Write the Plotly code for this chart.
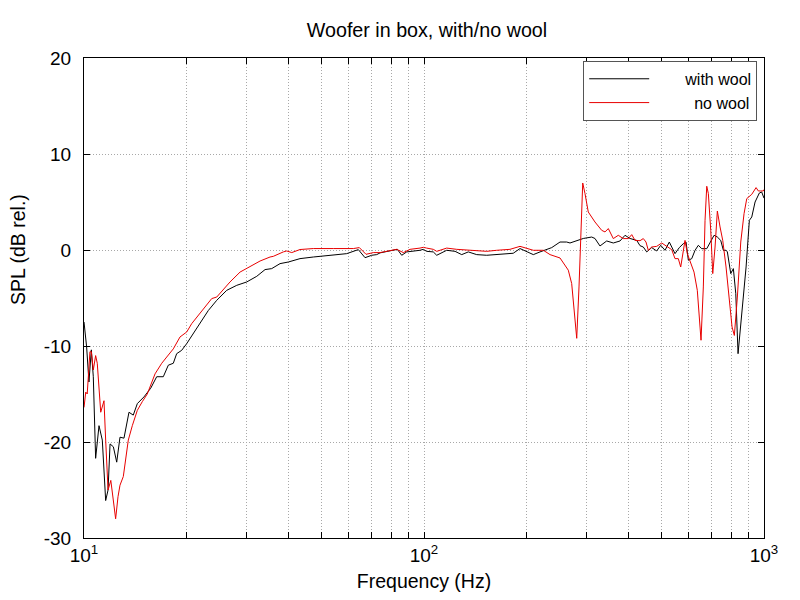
import plotly.graph_objects as go

# ---- data ----
freq_wool = [10.0, 10.18, 10.34, 10.51, 10.65, 10.82, 11.07, 11.32, 11.58, 11.77, 11.93, 12.2, 12.48,
             12.76, 13.11, 13.56, 13.96, 14.35, 15.01, 15.71, 16.36, 17.11, 17.7, 18.31, 18.73, 19.38,
             20.05, 20.97, 21.94, 23.21, 24.57, 26.29, 28.13, 30.1, 32.22, 34.08, 35.65, 37.72, 39.9,
             43.18, 47.26, 51.73, 54.1, 59.24, 64.1, 67.08, 70.19, 72.59, 74.25, 81.23, 83.47, 85.99,
             88.95, 97.32, 99.54, 101.8, 106.5, 109.0, 116.6, 123.4, 129.1, 135.0, 142.9, 152.9, 163.6,
             175.1, 183.0, 191.6, 200.5, 209.7, 219.4, 229.6, 237.5, 251.2, 262.8, 268.8, 281.3, 294.1,
             311.3, 318.3, 329.3, 344.6, 360.4, 377.1, 390.1, 403.6, 422.3, 431.8, 441.6, 451.9, 467.4,
             483.5, 496.8, 511.5, 526.6, 535.2, 547.3, 563.5, 579.0, 589.8, 599.1, 613.0, 626.9, 641.0,
             656.0, 678.6, 693.9, 713.0, 729.1, 746.0, 759.4, 773.3, 780.3, 798.4, 812.6, 826.0, 838.9,
             860.2, 885.7, 905.7, 920.5, 941.3, 969.1, 984.5, 995.3, 1000.0]
spl_wool = [-7.5, -10.1, -13.75, -10.4, -13.2, -21.7, -18.3, -19.8, -26.1, -25.0, -20.2, -20.5, -22.1,
            -19.5, -19.6, -16.9, -17.2, -16.0, -15.3, -14.4, -13.2, -13.2, -12.0, -11.8, -10.8, -10.45,
            -9.75, -8.7, -7.5, -6.3, -5.24, -4.2, -3.68, -3.33, -2.74, -2.04, -1.94, -1.42, -1.25,
            -0.9, -0.73, -0.6, -0.55, -0.38, 0.04, -0.8, -0.55, -0.48, -0.3, -0.03, 0.07, -0.55,
            -0.2, -0.03, 0.07, -0.14, -0.2, -0.55, -0.03, -0.14, -0.48, -0.2, -0.48, -0.55, -0.48,
            -0.41, -0.34, 0.15, -0.2, -0.48, -0.2, 0.07, 0.25, 0.83, 0.83, 0.73, 1.0, 1.2,
            1.35, 1.2, 0.42, 0.94, 0.73, 0.94, 1.53, 1.2, 1.0, 0.45, 0.31, -0.2, 0.25,
            -0.1, 0.49, -0.03, 0.83, 0.38, -0.38, 0.25, 0.66, 0.83, -1.07, -0.9, -0.03, 0.49,
            0.14, 0.14, 0.83, 1.53, 1.35, 1.0, -0.03, -0.03, -0.2, -2.46, -1.94, -4.54, -10.8,
            -6.98, -1.77, 3.09, 3.44, 5.0, 5.94, 6.04, 5.7, 5.4]

freq_nowool = [10.0, 10.12, 10.22, 10.41, 10.51, 10.65, 10.82, 10.94, 11.2, 11.32, 11.45, 11.58, 11.77,
               11.99, 12.2, 12.39, 12.59, 12.76, 13.05, 13.26, 13.5, 13.87, 14.35, 14.84, 15.35, 16.18,
               16.93, 17.51, 18.31, 19.16, 20.05, 20.74, 21.94, 23.75, 24.57, 26.88, 28.77, 30.78, 32.94,
               35.25, 36.04, 38.57, 39.47, 40.83, 43.18, 47.26, 51.73, 54.1, 61.97, 64.54, 67.53, 70.95,
               74.25, 83.13, 86.93, 90.96, 97.32, 99.54, 101.8, 106.5, 109.0, 116.6, 124.8, 136.6, 152.9,
               163.6, 179.0, 191.6, 200.5, 209.7, 224.4, 234.8, 251.2, 259.8, 265.7, 271.9, 276.2, 281.3,
               285.7, 289.0, 293.0, 297.5, 304.2, 318.3, 333.1, 340.7, 348.4, 360.4, 372.8, 385.6, 399.0,
               408.3, 417.5, 431.8, 441.6, 449.7, 456.8, 467.4, 483.5, 500.2, 517.4, 535.2, 547.3, 559.7,
               568.9, 576.7, 585.7, 595.0, 606.0, 622.6, 636.6, 652.8, 663.1, 670.8, 678.6, 686.0, 697.2,
               706.7, 717.9, 729.1, 742.6, 756.2, 773.3, 790.8, 805.5, 818.1, 835.0, 854.4, 873.7, 889.8,
               920.5, 947.7, 962.4, 978.0, 995.3, 1000.0]
spl_nowool = [-16.4, -14.8, -15.0, -10.6, -10.6, -12.5, -11.0, -11.8, -16.9, -16.2, -15.7, -19.8, -25.0,
              -24.0, -26.4, -28.0, -25.7, -24.5, -23.6, -21.9, -19.8, -18.3, -16.7, -15.8, -15.0, -12.9,
              -11.8, -11.15, -10.3, -9.06, -8.54, -7.67, -6.63, -5.06, -4.9, -3.33, -2.3, -1.77, -1.15,
              -0.73, -0.66, -0.2, -0.1, -0.27, 0.05, 0.15, 0.2, 0.15, 0.15, 0.25, -0.45, -0.27,
              -0.27, 0.07, -0.27, 0.07, 0.2, 0.28, 0.2, 0.07, -0.14, 0.2, 0.07, -0.03, -0.14,
              -0.03, 0.07, 0.38, 0.2, -0.03, -0.03, -0.48, -0.83, -1.6, -2.1, -3.5, -6.3, -9.2,
              -3.85, 1.35, 6.98, 5.88, 3.96, 2.92, 2.05, 1.88, 2.23, 1.19, 1.53, 1.19, 1.19,
              1.6, 1.0, 0.97, 1.19, 0.83, -0.03, 0.31, 0.38, 0.73, 0.38, 0.04, -0.9, -0.9,
              -1.77, -0.38, 1.0, -0.38, -1.25, -2.3, -4.2, -9.4, -3.85, 3.09, 6.64, 5.88, 2.05,
              -2.46, 0.31, 4.06, 2.4, 1.0, -1.77, -5.24, -8.02, -8.9, -4.9, 0.83, 3.79, 5.35,
              5.8, 6.5, 6.15, 6.15, 6.15, 6.3]

x_tickvals = [10, 20, 30, 40, 50, 60, 70, 80, 90, 100, 200, 300, 400, 500, 600, 700, 800, 900, 1000]
x_ticktext = ["10<sup>1</sup>", "", "", "", "", "", "", "", "", "10<sup>2</sup>",
              "", "", "", "", "", "", "", "", "10<sup>3</sup>"]
y_tickvals = [-30, -20, -10, 0, 10, 20]
y_ticktext = ["-30", "-20", "-10", "0", "10", "20"]

FONT = "Liberation Sans, Arial, Helvetica, sans-serif"
NB = "\u00a0"

fig = go.Figure()
fig.add_trace(go.Scatter(x=freq_wool, y=spl_wool, mode="lines", name=NB * 7 + "with wool",
                         line=dict(color="black", width=1)))
fig.add_trace(go.Scatter(x=freq_nowool, y=spl_nowool, mode="lines", name=NB * 9 + "no wool",
                         line=dict(color="#e80000", width=1)))

axis_common = dict(showline=True, linecolor="black", linewidth=1, mirror="ticks",
                   ticks="inside", ticklen=6, tickcolor="black",
                   showgrid=True, gridcolor="#a8a8a8", griddash="1px,2px", gridwidth=1,
                   zeroline=False, automargin=False,
                   tickfont=dict(family=FONT, size=19, color="black"))

fig.update_xaxes(type="log", range=[1, 3], tickvals=x_tickvals, ticktext=x_ticktext,
                 title=dict(text="Frequency (Hz)", font=dict(family=FONT, size=19.5, color="black"),
                            standoff=9),
                 **axis_common)
fig.update_yaxes(range=[-30, 20], tickvals=y_tickvals, ticktext=y_ticktext,
                 ticklabelstandoff=8,
                 **axis_common)

fig.add_annotation(text="SPL (dB rel.)", textangle=-90, xref="paper", yref="paper",
                   x=-0.097, y=0.6, xanchor="center", yanchor="middle", showarrow=False,
                   font=dict(family=FONT, size=19.5, color="black"))

fig.update_layout(
    width=792, height=592,
    paper_bgcolor="white", plot_bgcolor="white",
    margin=dict(l=76, r=36, t=50, b=62),
    title=dict(text="Woofer in box, with/no wool", x=0.529, xanchor="center", y=0.963, yanchor="middle",
               font=dict(family=FONT, size=19.7, color="black")),
    legend=dict(x=0.99, xanchor="right", y=0.994, yanchor="top",
                bgcolor="white", bordercolor="#555555", borderwidth=1,
                font=dict(family=FONT, size=16, color="black"),
                tracegroupgap=0, itemwidth=60),
    showlegend=True,
)

fig.write_html("out.html")
